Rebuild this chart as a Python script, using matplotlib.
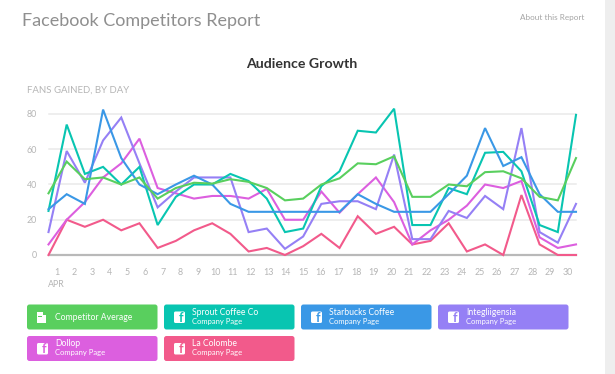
import matplotlib
matplotlib.use("Agg")
import matplotlib.pyplot as plt
from matplotlib.patches import FancyBboxPatch, Rectangle

plt.rcParams['font.family'] = ['Lato', 'DejaVu Sans']

days = list(range(1, 31))
average = [35,53,43,44,40,44,32,38,41,40.5,43,41.5,38,31,32,40,43.5,52,51.5,56,33,33,40,39,47,47.5,43.5,33,31,55]
sprout = [25,74,46,50,40,50,17,33,40,40,46,42,32,13,15,39,47.5,70.5,69.5,83,17,17,38,34.5,58,58.5,47.5,17,13,79.5]
starbucks = [26,34.5,29,82.5,55,40,34.5,40,45,40,29,24.5,24.5,24.5,24.5,24.5,24.5,34.5,29,24.5,24.5,24.5,34.5,45,72,50.5,55.5,34.5,24.5,24.5]
intelligentsia = [13,59,41,65,78,52,27,36,44,44,44,13,15,3.5,10.5,29,30.5,30.5,26,57,9,9,25,21,33.5,26,72,13,7,29]
dollop = [6,20,30,44,52,66,38,35,32,33.5,33.5,32,37.5,20,20,36,24,34.5,44,30,6,14,20,28,40,38,42,10,4,6]
colombe = [0,20,16,20,14,18,4,8,14,18,12,2,4,0,5,12,4,22,12,16,6,8,18,2,6,0,34,6,0,0]

y_ticks = [0, 20, 40, 60, 80]

GREEN, TEAL, BLUE, PURPLE, MAGENTA, PINK = '#59cf5e', '#08c5b1', '#3a98e6', '#9580f5', '#dc5fdf', '#f25a8b'

W, H = 615, 374
fig = plt.figure(figsize=(W/100, H/100), dpi=100, facecolor='white')

# page layer in pixel coordinates
bg = fig.add_axes([0, 0, 1, 1], zorder=0)
bg.set_xlim(0, W); bg.set_ylim(H, 0); bg.axis('off')
bg.add_patch(Rectangle((605, 0), 10, H, color='#eeeeee', lw=0))
bg.text(22, 21, 'Facebook Competitors Report', fontsize=13, color='#8f8f8f', va='center', ha='left')
bg.text(584, 17, 'About this Report', fontsize=5.9, color='#a5a5a5', va='center', ha='right')
bg.text(302, 64, 'Audience Growth', fontsize=10.2, color='#333333', va='center', ha='center', fontweight='bold')
bg.text(27, 90, 'FANS GAINED, BY DAY', fontsize=6.9, color='#b5b5b5', va='center', ha='left')
bg.text(48, 284.5, 'APR', fontsize=6.4, color='#b5b5b5', va='center', ha='left')

# chart
x0, x1, ytop, ybot = 48.5, 576, 114, 255
ax = fig.add_axes([x0/W, 1-ybot/H, (x1-x0)/W, (ybot-ytop)/H], zorder=2)
ax.patch.set_alpha(0)
ax.set_xlim(1, 30); ax.set_ylim(0, 80)
for s in ax.spines.values():
    s.set_visible(False)
for v in y_ticks[1:]:
    ax.axhline(v, color='#e9e9e9', lw=1.1, zorder=1, clip_on=False)
ax.axhline(0, color='#b9b9b9', lw=1.6, zorder=1, clip_on=False)
ax.set_yticks(y_ticks)
ax.set_xticks([1 + (57 + 17.6*(d-1) - x0)/((x1-x0)/29) for d in days])
ax.set_xticklabels([str(d) for d in days])
ax.tick_params(axis='both', length=0, labelsize=6.4, labelcolor='#b5b5b5')
ax.tick_params(axis='x', pad=9.5)
ax.tick_params(axis='y', pad=8.5)
for lab in ax.get_yticklabels():
    lab.set_ha('right')

for vals, c in [(colombe, PINK), (dollop, MAGENTA), (intelligentsia, PURPLE),
                (sprout, TEAL), (starbucks, BLUE), (average, GREEN)]:
    ax.plot(days, vals, color=c, lw=1.5, zorder=3, clip_on=False, solid_joinstyle='miter')

# legend buttons
names = ['Competitor Average', 'Sprout Coffee Co', 'Starbucks Coffee', 'Integliigensia', 'Dollop', 'La Colombe']
colors = [GREEN, TEAL, BLUE, PURPLE, MAGENTA, PINK]
lefts = [27, 164, 301, 438, 27, 164]
tops = [304.5, 304.5, 304.5, 304.5, 336, 336]
bw, bh = 130.5, 25

for i, (n, c, l, t) in enumerate(zip(names, colors, lefts, tops)):
    bg.add_patch(FancyBboxPatch((l+1.5, t+1.5), bw-3, bh-3, boxstyle='round,pad=1.5,rounding_size=2.5',
                                fc=c, ec='none'))
    if i == 0:
        bg.add_patch(Rectangle((l+10, t+7), 5.5, 11, fc='white', ec='none'))
        bg.add_patch(Rectangle((l+15.5, t+10), 3.5, 8, fc='white', ec='none'))
        for wy in (t+9, t+11.5, t+14):
            bg.add_patch(Rectangle((l+11, wy), 3.5, 0.8, fc=c, ec='none'))
        bg.text(l+28, t+bh/2+0.2, n, fontsize=6.2, color='white', va='center', ha='left')
    else:
        bg.add_patch(FancyBboxPatch((l+11, t+8), 9, 9.5, boxstyle='round,pad=1,rounding_size=1.5',
                                    fc='white', ec='none'))
        bg.text(l+16.8, t+13.2, 'f', fontsize=9, color=c, va='center', ha='center', fontweight='bold')
        bg.text(l+28, t+8, n, fontsize=6.2, color='white', va='center', ha='left')
        bg.text(l+28, t+17, 'Company Page', fontsize=5.5, color='white', va='center', ha='left')

fig.savefig('out.png', dpi=100, facecolor='white')
